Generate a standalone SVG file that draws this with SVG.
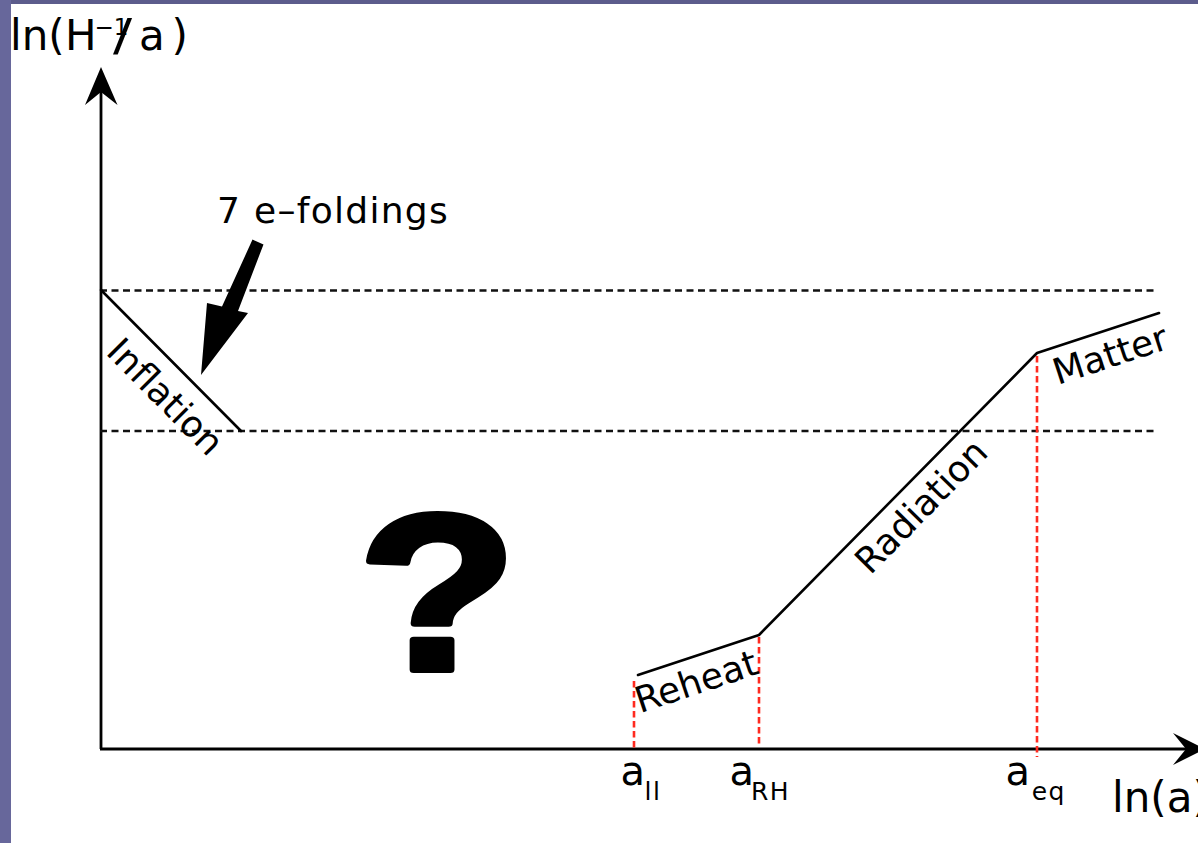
<svg xmlns="http://www.w3.org/2000/svg" width="1198" height="843" viewBox="0 0 1198 843">
<style>
.ax{stroke:#000;stroke-width:2.8;fill:none}
.dash{stroke:#111;stroke-width:2.3;stroke-dasharray:7 4.5;fill:none}
.seg{stroke:#000;stroke-width:2.6;fill:none;stroke-linecap:round}
.red{stroke:#ff2a1f;stroke-width:2.6;stroke-dasharray:6.5 3.5;fill:none}
text{font-family:"DejaVu Sans","Liberation Sans",sans-serif;fill:#000}
.lab{font-size:36px}
.big{font-size:42px}
.a{font-size:40px}
.sub{font-size:25px;letter-spacing:1.5px}
</style>
<rect width="1198" height="843" fill="#fff"/>
<rect x="0" y="0" width="1198" height="4" fill="#5c5c8c"/>
<rect x="0" y="0" width="11" height="843" fill="#67679b"/>

<g id="axes">
  <line class="ax" x1="101" y1="749" x2="101" y2="90"/>
  <polygon points="101,67 117.5,105 101,92 85,105" fill="#000"/>
  <line class="ax" x1="100" y1="749" x2="1186" y2="749"/>
  <polygon points="1205,749 1173,765 1186,749 1173,733" fill="#000"/>
  <text class="big" y="50"><tspan x="10">ln(</tspan><tspan x="65">H</tspan></text>
  <text style="font-size:23px" x="94.6" y="35">−1</text>
  <text class="big" transform="translate(113,51) scale(1.35,1.05)">/</text>
  <text class="big" y="50"><tspan x="139">a</tspan><tspan x="171.5">)</tspan></text>
  <text class="big" x="1112" y="812">ln(a)</text>
</g>

<g id="guides">
  <line class="dash" x1="100" y1="290.5" x2="1155" y2="290.5"/>
  <line class="dash" x1="100" y1="431" x2="1157" y2="431"/>
  <line class="red" x1="634" y1="681" x2="634" y2="750"/>
  <line class="red" x1="759" y1="637" x2="759" y2="746"/>
  <line class="red" x1="1037" y1="356" x2="1037" y2="757"/>
</g>

<g id="connectors">
  <line id="inflation-line" class="seg" x1="101" y1="290" x2="241" y2="431"/>
  <polyline id="history-line" class="seg" points="638,675 759,635 1037,353 1159,313" style="stroke-linejoin:round"/>
</g>

<g id="inflation">
  <text class="lab" text-anchor="middle" transform="translate(156.5,405.4) rotate(45.2)">Inflation</text>
</g>
<g id="reheat">
  <text class="lab" text-anchor="middle" transform="translate(700,693.3) rotate(-18.43)">Reheat</text>
</g>
<g id="radiation">
  <text class="lab" text-anchor="middle" transform="translate(930,515) rotate(-45.5)">Radiation</text>
</g>
<g id="matter">
  <text class="lab" text-anchor="middle" transform="translate(1114,366.5) rotate(-18.15)">Matter</text>
</g>

<g id="efoldings">
  <text class="lab" x="217" y="223" style="letter-spacing:1.3px">7 e–foldings</text>
  <polygon points="252.5,239.6 263.5,244.4 238,311 248,313 201,375 207,303 222,306.5" fill="#000"/>
</g>

<g id="question">
  <text transform="translate(437.5,669.5) scale(1.17,1)" text-anchor="middle" style="font-family:'Liberation Sans',Arial,sans-serif;font-weight:bold;font-size:222px;stroke:#000;stroke-width:7;stroke-linejoin:round">?</text>
</g>

<g id="ticks">
  <text class="a" x="620.5" y="785">a</text><text class="sub" x="644.5" y="800">ll</text>
  <text class="a" x="729.6" y="785">a</text><text class="sub" x="751" y="800">RH</text>
  <text class="a" x="1005.6" y="785">a</text><text class="sub" x="1031.7" y="800">eq</text>
</g>
</svg>
